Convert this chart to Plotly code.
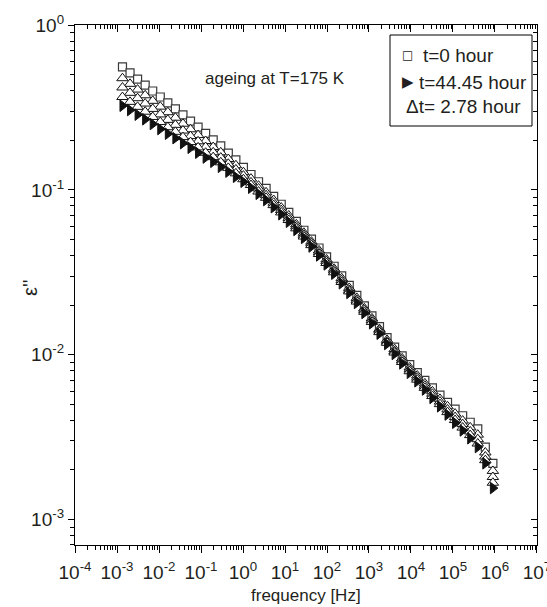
import plotly.graph_objects as go

# ---------------- data ----------------
freq = [0.001349, 0.002042, 0.003090, 0.004677, 0.007079, 0.01072, 0.01622, 0.02455,
        0.03715, 0.05623, 0.08511, 0.1288, 0.1950, 0.2951, 0.4467, 0.6761, 1.023,
        1.549, 2.344, 3.548, 5.370, 8.128, 12.30, 18.62, 28.18, 42.66, 64.57, 97.72,
        147.9, 223.9, 338.8, 512.9, 776.2, 1175, 1778, 2692, 4074, 6166, 9333, 14125,
        21380, 32359, 48978, 74131, 112202, 169824, 257040, 389045, 588844, 891251]

eps_t0 = [0.558, 0.513, 0.470, 0.432, 0.398, 0.366, 0.337, 0.310, 0.285, 0.261, 0.240,
          0.220, 0.201, 0.185, 0.167, 0.152, 0.137, 0.124, 0.112, 0.102, 0.0912, 0.0818,
          0.0730, 0.0644, 0.0569, 0.0502, 0.0444, 0.0392, 0.0344, 0.0301, 0.0263, 0.0229,
          0.0198, 0.0172, 0.0148, 0.0127, 0.0111, 0.00984, 0.00869, 0.00778, 0.00698,
          0.00628, 0.00568, 0.00514, 0.00467, 0.00426, 0.00389, 0.00355, 0.00275, 0.00219]

eps_t2_78 = [0.476, 0.440, 0.406, 0.375, 0.347, 0.320, 0.296, 0.274, 0.252, 0.233, 0.215,
             0.198, 0.182, 0.169, 0.154, 0.141, 0.128, 0.117, 0.106, 0.0966, 0.0868, 0.0781,
             0.0699, 0.0618, 0.0549, 0.0485, 0.0429, 0.0378, 0.0332, 0.0291, 0.0254, 0.0221,
             0.0191, 0.0166, 0.0143, 0.0123, 0.0108, 0.00949, 0.00836, 0.00747, 0.00669,
             0.00599, 0.00539, 0.00486, 0.00439, 0.00398, 0.00362, 0.00327, 0.00255, 0.00197]

eps_t5_56 = [0.418, 0.388, 0.360, 0.334, 0.310, 0.287, 0.266, 0.248, 0.229, 0.212, 0.197,
             0.182, 0.169, 0.157, 0.144, 0.133, 0.122, 0.111, 0.102, 0.0928, 0.0836, 0.0754,
             0.0676, 0.0600, 0.0534, 0.0473, 0.0418, 0.0369, 0.0324, 0.0283, 0.0247, 0.0215,
             0.0187, 0.0162, 0.0140, 0.0120, 0.0105, 0.00925, 0.00813, 0.00725, 0.00648,
             0.00579, 0.00519, 0.00465, 0.00418, 0.00379, 0.00342, 0.00307, 0.00241, 0.00181]

eps_t16_68 = [0.366, 0.342, 0.319, 0.298, 0.277, 0.258, 0.240, 0.225, 0.209, 0.195, 0.181,
              0.168, 0.158, 0.147, 0.136, 0.126, 0.116, 0.107, 0.0977, 0.0895, 0.0808, 0.0730,
              0.0656, 0.0584, 0.0521, 0.0462, 0.0408, 0.0360, 0.0316, 0.0276, 0.0242, 0.0210,
              0.0182, 0.0158, 0.0137, 0.0118, 0.0103, 0.00903, 0.00793, 0.00705, 0.00629,
              0.00561, 0.00501, 0.00448, 0.00401, 0.00361, 0.00325, 0.00289, 0.00229, 0.00167]

eps_t44_45 = [0.324, 0.305, 0.286, 0.268, 0.251, 0.234, 0.219, 0.206, 0.192, 0.180, 0.168,
              0.157, 0.148, 0.138, 0.129, 0.120, 0.112, 0.103, 0.0946, 0.0867, 0.0785, 0.0711,
              0.0640, 0.0571, 0.0511, 0.0453, 0.0400, 0.0353, 0.0310, 0.0271, 0.0237, 0.0206,
              0.0179, 0.0155, 0.0134, 0.0116, 0.0101, 0.00885, 0.00776, 0.00689, 0.00614,
              0.00546, 0.00486, 0.00433, 0.00386, 0.00347, 0.00311, 0.00275, 0.00219, 0.00155]

x_tickvals = [1e-4, 1e-3, 1e-2, 1e-1, 1e0, 1e1, 1e2, 1e3, 1e4, 1e5, 1e6, 1e7]
x_ticktext = ["10<sup>-4</sup>", "10<sup>-3</sup>", "10<sup>-2</sup>", "10<sup>-1</sup>",
              "10<sup>0</sup>", "10<sup>1</sup>", "10<sup>2</sup>", "10<sup>3</sup>",
              "10<sup>4</sup>", "10<sup>5</sup>", "10<sup>6</sup>", "10<sup>7</sup>"]
y_tickvals = [1e-3, 1e-2, 1e-1, 1e0]
y_ticktext = ["10<sup>-3</sup>", "10<sup>-2</sup>", "10<sup>-1</sup>", "10<sup>0</sup>"]

# ---------------- layout geometry ----------------
W, H = 547, 607
L, R, T, B = 75, 537, 25, 545
FONT = "Liberation Sans, Arial, sans-serif"
TXT = "#231f20"
X_RANGE = [-4.0005, 7.0005]
Y_RANGE = [-3.155, 0.0005]

def px(x):
    return (x - L) / (R - L)

def py(y):
    return (B - y) / (B - T)

minor_x = [m * 10.0 ** e for e in range(-4, 7) for m in range(2, 10)]
minor_y = [m * 10.0 ** e for e in range(-4, 0) for m in range(2, 10)]

fig = go.Figure()

series = [
    ("t=0 hour", eps_t0, dict(symbol="square", size=8, color="white",
                              line=dict(color="#3a3a3a", width=1.2))),
    ("t=2.78 hour", eps_t2_78, dict(symbol="triangle-up", size=10, color="white",
                                    line=dict(color="#111", width=1))),
    ("t=5.56 hour", eps_t5_56, dict(symbol="triangle-up", size=10, color="white",
                                    line=dict(color="#111", width=1))),
    ("t=16.68 hour", eps_t16_68, dict(symbol="triangle-up", size=10, color="white",
                                      line=dict(color="#111", width=1))),
    ("t=44.45 hour", eps_t44_45, dict(symbol="triangle-right", size=10, color="#111",
                                      line=dict(color="#111", width=1))),
]
for name, vals, mk in series:
    fig.add_trace(go.Scatter(x=freq, y=vals, mode="markers", name=name,
                             marker=mk, showlegend=False))

# dummy trace to show mirrored (inside) ticks on top / right
fig.add_trace(go.Scatter(x=[None], y=[None], xaxis="x2", yaxis="y2",
                         showlegend=False, hoverinfo="skip"))

axis_common = dict(showgrid=False, zeroline=False, tickcolor="black", tickwidth=1,
                   tickfont=dict(family=FONT, size=19, color=TXT),
                   ticklabeloverflow="allow")

fig.update_layout(
    width=W, height=H,
    margin=dict(l=L, r=W - R, t=T, b=H - B, pad=0),
    paper_bgcolor="white", plot_bgcolor="white",
    showlegend=False,
    xaxis=dict(type="log", range=X_RANGE, showline=True, linecolor="black", linewidth=1.3,
               mirror=True, ticks="outside", ticklen=7, tickmode="array",
               tickvals=x_tickvals, ticktext=x_ticktext, ticklabelstandoff=3,
               minor=dict(tickmode="array", tickvals=minor_x, ticks="outside", ticklen=4,
                          tickcolor="black", tickwidth=1),
               automargin=False, **axis_common),
    yaxis=dict(type="log", range=Y_RANGE, showline=True, linecolor="black", linewidth=1.3,
               mirror=True, ticks="outside", ticklen=6, tickmode="array",
               tickvals=y_tickvals, ticktext=y_ticktext,
               minor=dict(tickmode="array", tickvals=minor_y, ticks="outside", ticklen=4,
                          tickcolor="black", tickwidth=1),
               automargin=False, **axis_common),
    xaxis2=dict(type="log", range=X_RANGE, overlaying="x", side="top", anchor="y",
                showline=False, ticks="inside", ticklen=7, tickmode="array",
                tickvals=x_tickvals, showticklabels=False,
                minor=dict(tickmode="array", tickvals=minor_x, ticks="inside", ticklen=4,
                           tickcolor="black", tickwidth=1),
                showgrid=False, zeroline=False, tickcolor="black", tickwidth=1),
    yaxis2=dict(type="log", range=Y_RANGE, overlaying="y", side="right", anchor="x",
                showline=False, ticks="inside", ticklen=6, tickmode="array",
                tickvals=y_tickvals, showticklabels=False,
                minor=dict(tickmode="array", tickvals=minor_y, ticks="inside", ticklen=4,
                           tickcolor="black", tickwidth=1),
                showgrid=False, zeroline=False, tickcolor="black", tickwidth=1),
)

# legend box
fig.add_shape(type="rect", xref="paper", yref="paper",
              x0=px(390), x1=px(532), y0=py(126), y1=py(35),
              line=dict(color="black", width=1), fillcolor="white", layer="above")

ann = []
def add_text(text, x, y, size, xanchor="left", family=FONT, textangle=0):
    ann.append(dict(text=text, x=px(x), y=py(y), xref="paper", yref="paper",
                    xanchor=xanchor, yanchor="middle", showarrow=False,
                    textangle=textangle,
                    font=dict(family=family, size=size, color=TXT)))

add_text("\u25a1", 407, 55, 12, xanchor="center", family="DejaVu Sans")
add_text("t=0 hour", 421, 55, 19)
add_text("\u25b6", 408, 82, 15, xanchor="center", family="DejaVu Sans")
add_text("t=44.45 hour", 417, 82, 19)
add_text("\u0394t= 2.78 hour", 404, 106, 19)
add_text("ageing at T=175 K", 203, 79, 17)
add_text("frequency [Hz]", 306, 595, 17, xanchor="center")
add_text("\u03b5''", 30, 288, 20, xanchor="center", textangle=-90)

fig.update_layout(annotations=ann)

fig.write_html("out.html")
